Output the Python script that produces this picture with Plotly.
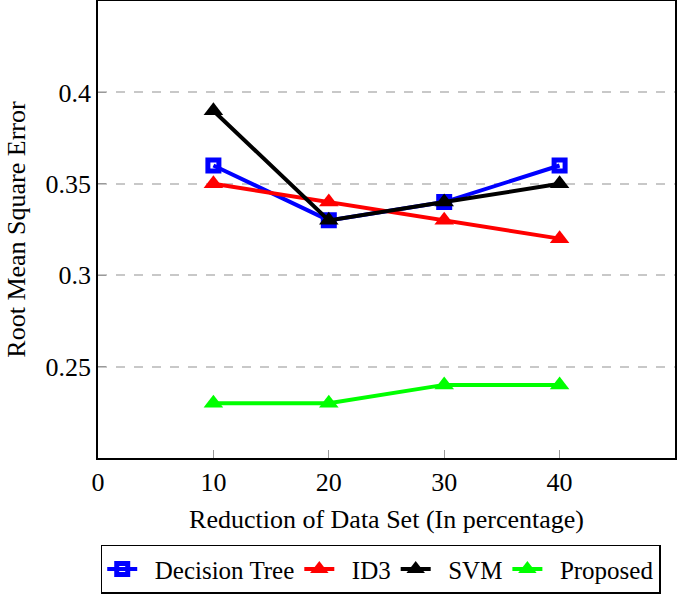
import plotly.graph_objects as go

x_vals = [10, 20, 30, 40]
decision_tree = [0.36, 0.33, 0.34, 0.36]
id3 = [0.35, 0.34, 0.33, 0.32]
svm = [0.39, 0.33, 0.34, 0.35]
proposed = [0.23, 0.23, 0.24, 0.24]
series_names = ["Decision Tree", "ID3", "SVM", "Proposed"]

x_ticks = [0, 10, 20, 30, 40]
y_ticks = [0.25, 0.3, 0.35, 0.4]
y_tick_text = ["0.25", "0.3", "0.35", "0.4"]

pad = "\u00a0\u00a0"

fig = go.Figure()
fig.add_trace(go.Scatter(x=x_vals, y=decision_tree, name=pad + series_names[0], mode="lines+markers",
                         line=dict(color="#0000ff", width=4),
                         marker=dict(symbol="square-open", size=11, color="#0000ff", line=dict(width=5))))
fig.add_trace(go.Scatter(x=x_vals, y=id3, name=pad + series_names[1], mode="lines+markers",
                         line=dict(color="#ff0000", width=4),
                         marker=dict(symbol="triangle-up", size=17, color="#ff0000")))
fig.add_trace(go.Scatter(x=x_vals, y=svm, name=pad + series_names[2], mode="lines+markers",
                         line=dict(color="#000000", width=4),
                         marker=dict(symbol="triangle-up", size=17, color="#000000")))
fig.add_trace(go.Scatter(x=x_vals, y=proposed, name=pad + series_names[3], mode="lines+markers",
                         line=dict(color="#00ff00", width=4),
                         marker=dict(symbol="triangle-up", size=17, color="#00ff00")))

font = "Liberation Serif"
fig.update_layout(
    width=685, height=595,
    margin=dict(l=98, r=10, t=1, b=134),
    paper_bgcolor="white", plot_bgcolor="white",
    font=dict(family=font, size=26, color="black"),
    showlegend=True,
    legend=dict(orientation="h", x=0.49, xanchor="center", y=-0.19, yanchor="top",
                bordercolor="black", borderwidth=1.5, font=dict(family=font, size=25),
                itemwidth=30, tracegroupgap=0),
    xaxis=dict(range=[0, 50], tickvals=x_ticks, ticks="inside", ticklen=8, tickcolor="#999",
               showline=True, linecolor="black", linewidth=1.5, mirror=True,
               showgrid=False, zeroline=False, automargin=False,
               tickfont=dict(family=font, size=26),
               title=dict(text="Reduction of Data Set (In percentage)", standoff=14,
                          font=dict(family=font, size=26))),
    yaxis=dict(range=[0.2, 0.45], tickvals=y_ticks, ticktext=y_tick_text,
               ticks="inside", ticklen=8, tickcolor="#999",
               showline=True, linecolor="black", linewidth=1.5, mirror=True,
               showgrid=True, gridcolor="#c8c8c8", griddash="dash", gridwidth=1.5,
               zeroline=False, automargin=False,
               tickfont=dict(family=font, size=26),
               title=dict(text="Root Mean Square Error", standoff=12,
                          font=dict(family=font, size=26))),
)
fig.write_html("out.html", config={"displayModeBar": False},
               post_script="document.body.style.margin='0';")
